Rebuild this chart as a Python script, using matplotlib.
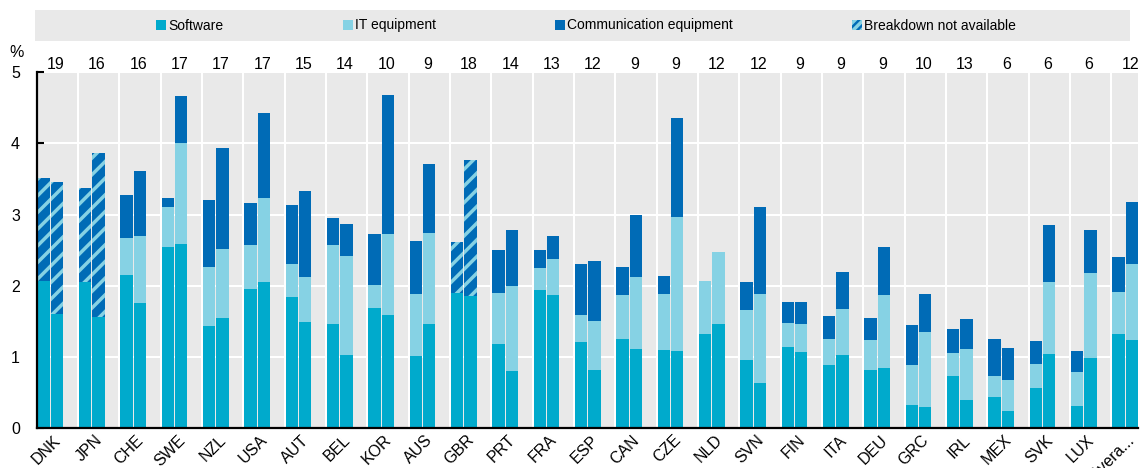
import matplotlib
matplotlib.use("Agg")
import matplotlib.pyplot as plt
from matplotlib.patches import Rectangle
from matplotlib.transforms import blended_transform_factory
import numpy as np

countries = ["DNK", "JPN", "CHE", "SWE", "NZL", "USA", "AUT", "BEL", "KOR", "AUS",
             "GBR", "PRT", "FRA", "ESP", "CAN", "CZE", "NLD", "SVN", "FIN", "ITA",
             "DEU", "GRC", "IRL", "MEX", "SVK", "LUX", "Avera..."]
top_labels = [19, 16, 16, 17, 17, 17, 15, 14, 10, 9, 18, 14, 13, 12, 9, 9, 12, 12,
              9, 9, 9, 10, 13, 6, 6, 6, 12]

# first (earlier) bar of each pair
sw1 = [2.07, 2.05, 2.15, 2.54, 1.43, 1.96, 1.84, 1.47, 1.69, 1.02, 1.90, 1.19, 1.94, 1.21,
       1.25, 1.10, 1.33, 0.96, 1.14, 0.89, 0.82, 0.33, 0.74, 0.44, 0.57, 0.31, 1.33]
it1 = [0.00, 0.00, 0.52, 0.57, 0.83, 0.61, 0.46, 1.10, 0.32, 0.86, 0.00, 0.71, 0.31, 0.38,
       0.62, 0.78, 0.74, 0.70, 0.34, 0.37, 0.42, 0.56, 0.32, 0.29, 0.33, 0.48, 0.58]
comm1 = [0.00, 0.00, 0.60, 0.12, 0.95, 0.59, 0.83, 0.38, 0.72, 0.75, 0.00, 0.60, 0.25, 0.71,
         0.39, 0.26, 0.00, 0.39, 0.29, 0.32, 0.31, 0.56, 0.33, 0.52, 0.33, 0.29, 0.49]
na1 = [1.44, 1.32, 0, 0, 0, 0, 0, 0, 0, 0, 0.71, 0, 0, 0,
       0, 0, 0, 0, 0, 0, 0, 0, 0, 0, 0, 0, 0]

# second (later) bar of each pair
sw2 = [1.61, 1.56, 1.76, 2.58, 1.55, 2.05, 1.49, 1.03, 1.59, 1.47, 1.86, 0.81, 1.87, 0.82,
       1.11, 1.09, 1.47, 0.63, 1.07, 1.03, 0.84, 0.30, 0.40, 0.24, 1.04, 0.99, 1.24]
it2 = [0.00, 0.00, 0.94, 1.42, 0.97, 1.18, 0.63, 1.39, 1.14, 1.27, 0.00, 1.18, 0.51, 0.68,
       1.02, 1.88, 1.01, 1.26, 0.39, 0.64, 1.03, 1.05, 0.71, 0.44, 1.02, 1.19, 1.07]
comm2 = [0.00, 0.00, 0.91, 0.67, 1.41, 1.20, 1.21, 0.44, 1.95, 0.97, 0.00, 0.79, 0.32, 0.85,
         0.86, 1.38, 0.00, 1.22, 0.31, 0.52, 0.67, 0.54, 0.43, 0.45, 0.79, 0.60, 0.86]
na2 = [1.84, 2.31, 0, 0, 0, 0, 0, 0, 0, 0, 1.90, 0, 0, 0,
       0, 0, 0, 0, 0, 0, 0, 0, 0, 0, 0, 0, 0]

legend_labels = ["Software", "IT equipment", "Communication equipment", "Breakdown not available"]

C_SW = "#00AACC"
C_IT = "#86D2E4"
C_COMM = "#006BB6"
BG = "#E9E9E9"
FONT = ["Liberation Sans", "DejaVu Sans"]

plt.rcParams["font.family"] = FONT
plt.rcParams["hatch.linewidth"] = 2.5

W, H = 1142, 468
fig = plt.figure(figsize=(W / 100, H / 100), dpi=100)

def fx(px):
    return px / W

def fy(py):
    return 1 - py / H

ax_left, ax_right, ax_top, ax_bot = 36.6, 1138, 72, 428.3
ax = fig.add_axes([fx(ax_left), fy(ax_bot), fx(ax_right - ax_left), (ax_bot - ax_top) / H])
ax.set_facecolor(BG)

n = len(countries)
idx = np.arange(n)
bw = 0.30
x1 = idx + 0.176
x2 = idx + 0.496

for xs, sw, it, cm, na in [(x1, sw1, it1, comm1, na1), (x2, sw2, it2, comm2, na2)]:
    sw = np.array(sw); it = np.array(it); cm = np.array(cm); na = np.array(na)
    ax.bar(xs, sw, bw, color=C_SW, linewidth=0, zorder=3)
    ax.bar(xs, it, bw, bottom=sw, color=C_IT, linewidth=0, zorder=3)
    ax.bar(xs, cm, bw, bottom=sw + it, color=C_COMM, linewidth=0, zorder=3)
    mask = na > 0
    ax.bar(xs[mask], na[mask], bw, bottom=(sw + it + cm)[mask], color=C_COMM,
           edgecolor=C_IT, hatch="//", linewidth=0, zorder=3)

ax.set_xlim(0, n - 1 + 0.645)
ax.set_ylim(0, 5)
ax.set_yticks([0, 1, 2, 3, 4, 5])
ax.set_yticklabels(["0", "1", "2", "3", "4", "5"], fontsize=11.5)
ax.tick_params(axis="y", direction="in", length=5, width=1.5, pad=12, colors="black")

ax.set_xticks(idx + 0.40)
ax.set_xticklabels(countries, rotation=45, ha="right", va="top", rotation_mode="anchor",
                   fontsize=11.5)
ax.tick_params(axis="x", length=0, pad=3)

# grid
for y in [1, 2, 3, 4, 5]:
    ax.axhline(y, color="white", lw=1.5, zorder=1)
for x in range(1, n):
    ax.axvline(x, color="white", lw=1.5, zorder=1)

for s in ["top", "right"]:
    ax.spines[s].set_visible(False)
ax.spines["left"].set_linewidth(1.6)
ax.spines["bottom"].set_linewidth(1.6)
ax.spines["left"].set_zorder(5)
ax.spines["bottom"].set_zorder(5)

trans = blended_transform_factory(ax.transData, ax.transAxes)
for i, lab in enumerate(top_labels):
    ax.text(i + 0.46, 1.008, str(lab), transform=trans, ha="center", va="baseline",
            fontsize=11.5, clip_on=False)

fig.text(fx(16.5), fy(57), "%", ha="center", va="baseline", fontsize=11.5)

# legend band
fig.add_artist(Rectangle((fx(35), fy(41)), fx(1130 - 35), (41 - 10) / H,
                         transform=fig.transFigure, facecolor=BG, edgecolor="none", zorder=0))
leg_x = [156, 343, 555, 852]
leg_cols = [C_SW, C_IT, C_COMM, None]
for lx, col, lab in zip(leg_x, leg_cols, legend_labels):
    if col is None:
        p = Rectangle((fx(lx), fy(30)), fx(10), 9.5 / H, transform=fig.transFigure,
                      facecolor=C_COMM, edgecolor=C_IT, hatch="////", linewidth=0)
    else:
        p = Rectangle((fx(lx), fy(30)), fx(9.5), 9.5 / H, transform=fig.transFigure,
                      facecolor=col, edgecolor="none")
    fig.add_artist(p)
    fig.text(fx(lx + 12), fy(25.5), lab, ha="left", va="center", fontsize=10)

fig.savefig("out.png", dpi=100)
